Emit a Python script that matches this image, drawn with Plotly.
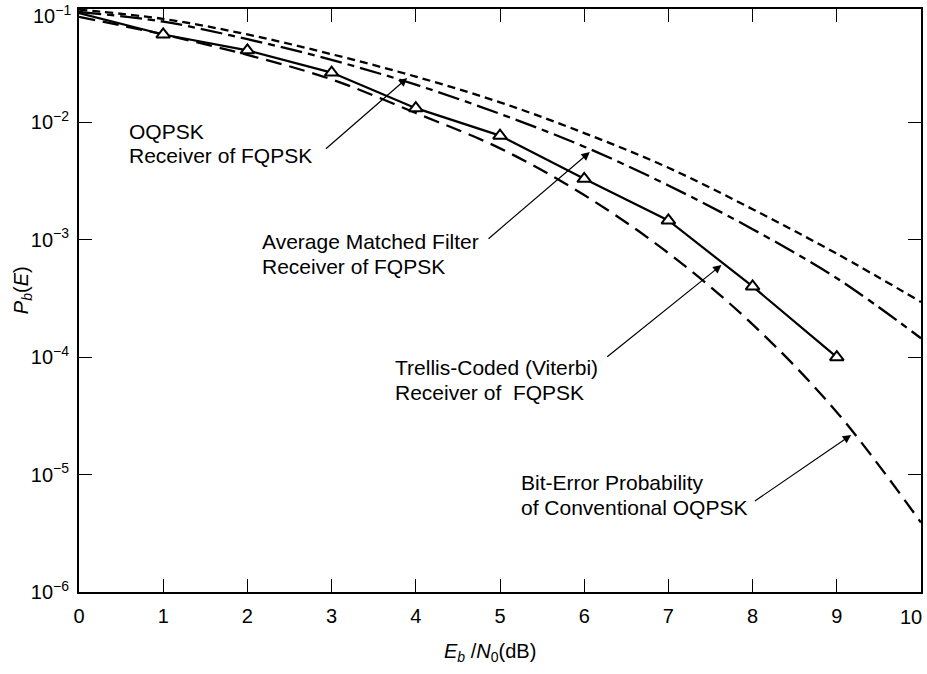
import plotly.graph_objects as go

# ---------------- data ----------------
ebn0_db = [0, 1, 2, 3, 4, 5, 6, 7, 8, 9, 10]
pb_oqpsk_receiver = [0.091, 0.076, 0.056, 0.038, 0.0245, 0.0148, 0.0081, 0.0041, 0.00182, 7.6e-4, 2.95e-4]
pb_avg_matched_filter = [0.087, 0.072, 0.051, 0.034, 0.0209, 0.0118, 0.0062, 0.0029, 0.00123, 4.7e-4, 1.45e-4]
ebn0_trellis = [0, 1, 2, 3, 4, 5, 6, 7, 8, 9]
pb_trellis = [0.085, 0.056, 0.041, 0.0265, 0.0132, 0.0077, 0.0033, 0.00146, 4.0e-4, 1.0e-4]
pb_conventional = [0.079, 0.056, 0.0375, 0.0232, 0.012, 0.006, 0.0024, 7.7e-4, 1.9e-4, 3.4e-5, 3.9e-6]

x_ticks = [0, 1, 2, 3, 4, 5, 6, 7, 8, 9, 10]
x_ticktext = ["0", "1", "2", "3", "4", "5", "6", "7", "8", "9", "10"]
y_tickvals = [1e-6, 1e-5, 1e-4, 1e-3, 1e-2, 1e-1]
y_ticktext = ["10<sup>\u22126</sup>", "10<sup>\u22125</sup>", "10<sup>\u22124</sup>",
              "10<sup>\u22123</sup>", "10<sup>\u22122</sup>", "10<sup>\u22121</sup>"]

label_lines = [
    ["OQPSK", "Receiver of FQPSK"],
    ["Average Matched Filter", "Receiver of FQPSK"],
    ["Trellis-Coded (Viterbi)", "Receiver of\u00a0 FQPSK"],
    ["Bit-Error Probability", "of Conventional OQPSK"],
]

# ---------------- layout geometry ----------------
W, H = 927, 674
L, R, T, B = 79, 923, 9, 592          # plot area in pixels
YMIN, YMAX = -6.0, -1.035             # log10 range
FONT = "Liberation Sans, Arial, Helvetica, sans-serif"


def px2x(px):
    return (px - L) / (R - L) * 10.0


def py2y(py):
    return YMIN + (B - py) / (B - T) * (YMAX - YMIN)


def pxp(px):
    return (px - L) / (R - L)


def pyp(py):
    return (B - py) / (B - T)


fig = go.Figure()

fig.add_trace(go.Scatter(
    x=ebn0_db, y=pb_oqpsk_receiver, mode="lines", line_shape="spline",
    line=dict(color="black", width=2.3, dash="8px,5px"), showlegend=False))
fig.add_trace(go.Scatter(
    x=ebn0_db, y=pb_avg_matched_filter, mode="lines", line_shape="spline",
    line=dict(color="black", width=2.3, dash="22px,6px,7px,6px"), showlegend=False))
fig.add_trace(go.Scatter(
    x=ebn0_db, y=pb_conventional, mode="lines", line_shape="spline",
    line=dict(color="black", width=2.3, dash="16px,8px"), showlegend=False))
fig.add_trace(go.Scatter(
    x=ebn0_trellis, y=pb_trellis, mode="lines",
    line=dict(color="black", width=2.2), showlegend=False))
fig.add_trace(go.Scatter(
    x=ebn0_trellis[1:], y=pb_trellis[1:], mode="markers",
    marker=dict(symbol="triangle-up", size=12, color="white",
                line=dict(color="black", width=2)), showlegend=False))

annotations = []

# text labels (left x, centre y of each line in pixels)
label_pos = [
    [(127, 131), (127, 155)],
    [(260, 242), (260, 266)],
    [(394, 367), (394, 392)],
    [(520, 482), (520, 508)],
]
for lines, poss in zip(label_lines, label_pos):
    for txt, (px, py) in zip(lines, poss):
        annotations.append(dict(
            text=txt, xref="paper", yref="paper", x=pxp(px), y=pyp(py),
            xanchor="left", yanchor="middle", showarrow=False,
            font=dict(family=FONT, size=21, color="black")))

# arrows (tail -> tip) in pixels
arrows = [((325, 150), (408, 78)),
          ((488, 240), (591, 152)),
          ((607, 358), (723, 265)),
          ((755, 502), (853, 435))]
for (tx, ty), (hx, hy) in arrows:
    annotations.append(dict(
        text="", x=px2x(hx), y=py2y(hy), ax=px2x(tx), ay=py2y(ty),
        xref="x", yref="y", axref="x", ayref="y", showarrow=True,
        arrowhead=2, arrowsize=1.4, arrowwidth=1.2, arrowcolor="black", standoff=0))

# top tick label 10^-1 (sits at the top corner)
annotations.append(dict(
    text=y_ticktext[-1], xref="paper", yref="paper", x=pxp(73), y=pyp(15),
    xanchor="right", yanchor="middle", showarrow=False,
    font=dict(family=FONT, size=20, color="black")))
# last x tick label, kept inside the figure edge as in the reference
annotations.append(dict(
    text=x_ticktext[-1], xref="paper", yref="paper", x=pxp(926), y=pyp(617),
    xanchor="right", yanchor="middle", showarrow=False,
    font=dict(family=FONT, size=20, color="black")))

# axis titles
annotations.append(dict(
    text="<i>E</i><sub><i>b</i></sub> /<i>N</i><sub>0</sub>(dB)", xref="paper", yref="paper",
    x=pxp(491), y=pyp(652), xanchor="center", yanchor="middle", showarrow=False,
    font=dict(family=FONT, size=20, color="black")))
annotations.append(dict(
    text="<i>P</i><sub><i>b</i></sub>(<i>E</i>)", xref="paper", yref="paper",
    x=pxp(22), y=pyp(290), xanchor="center", yanchor="middle", showarrow=False,
    textangle=-90, font=dict(family=FONT, size=20, color="black")))

fig.update_layout(
    width=W, height=H,
    margin=dict(l=L, r=W - R, t=T, b=H - B, pad=0),
    paper_bgcolor="white", plot_bgcolor="white",
    font=dict(family=FONT, size=20, color="black"),
    annotations=annotations,
    xaxis=dict(range=[0, 10], tickvals=x_ticks, ticktext=x_ticktext[:-1] + [""],
               showgrid=False, zeroline=False, showline=True, linecolor="black",
               linewidth=2, mirror="ticks", ticks="inside", ticklen=13, tickwidth=1.3,
               tickcolor="black", ticklabelstandoff=5),
    yaxis=dict(type="log", range=[YMIN, YMAX], tickvals=y_tickvals[:-1],
               ticktext=y_ticktext[:-1], showgrid=False, zeroline=False,
               showline=True, linecolor="black", linewidth=2, mirror="ticks",
               ticks="inside", ticklen=13, tickwidth=1.3, tickcolor="black",
               ticklabelstandoff=4),
)

fig.write_html("out.html", config={"displayModeBar": False},
               post_script="document.body.style.margin='0';document.body.style.padding='0';")
